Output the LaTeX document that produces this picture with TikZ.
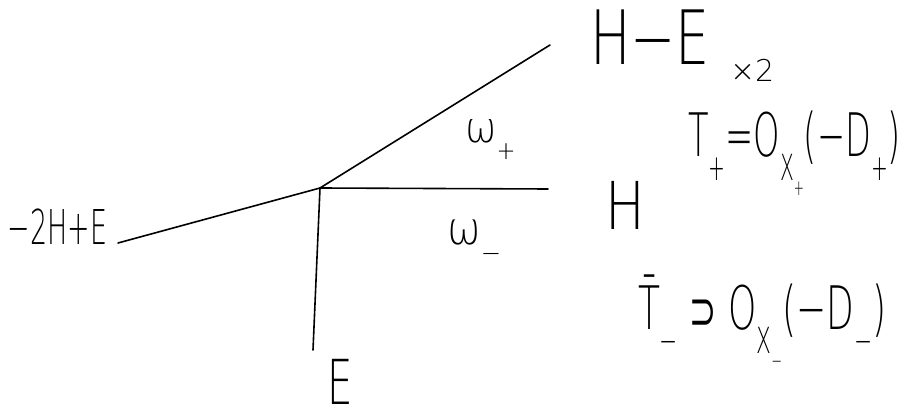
\documentclass[tikz,border=0pt]{standalone}
\usepackage{fontspec}
\setmainfont{DejaVu Sans}[UprightFont={* ExtraLight}]
\newfontfamily\symfont{DejaVu Sans}
\newcommand{\hw}[3]{{\fontsize{#1pt}{#1pt}\selectfont\scalebox{#2}[1]{#3}}}
\newcommand{\sub}[1]{\raisebox{-0.4em}{\scalebox{0.6}{#1}}}
\begin{document}
\begin{tikzpicture}[x=1pt,y=-1pt,
  edge/.style={line width=1.6pt,line cap=round},
  lbl/.style={inner sep=0pt,outer sep=0pt,anchor=base west,text=black}]
\useasboundingbox (0,0) rectangle (902,419);
% vertex and ray ends
\coordinate (v) at (320,188);
\coordinate (ue) at (550,45);
\coordinate (he) at (548,189);
\coordinate (le) at (118,243);
\coordinate (de) at (313,350);
\draw[edge] (v) -- (ue);
\draw[edge] (v) -- (he);
\draw[edge] (v) -- (le);
\draw[edge] (v) -- (de);
% labels
\node[lbl] (hmine) at (590,65) {\hw{75}{0.72}{H−E}};
\node[lbl] (times) at (730,82) {\hw{30}{1}{×2}};
\node[lbl] (wplus) at (465,143) {\hw{42}{0.9}{ω\sub{+}}};
\node[lbl] (hlab) at (605,230) {\hw{66}{0.8}{H}};
\node[lbl] (wminus) at (447,245) {\hw{45}{0.9}{ω\sub{−}}};
\node[lbl] (leftlab) at (8,245) {\hw{48}{0.56}{−2H+E}};
\node[lbl] (elab) at (327,404) {\hw{62}{0.65}{E}};
\node[lbl] (tplus) at (688,157) {\hw{60}{0.56}{T\sub{+}=O\sub{X\sub{+}}(−D\sub{+})}};
\node[lbl] (tminus) at (638,330) {\hw{60}{0.6}{T̄\sub{−} {\symfont\scalebox{0.9}{⊃}} O\sub{X\sub{−}}(−D\sub{−})}};
\end{tikzpicture}
\end{document}
